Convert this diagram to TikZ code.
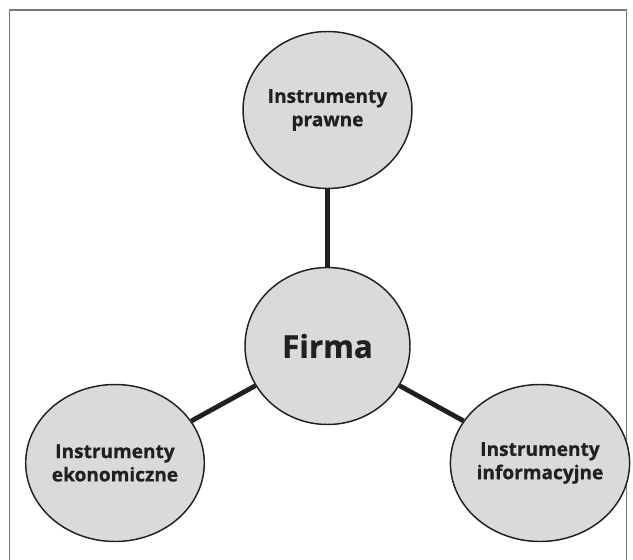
\documentclass[tikz,border=0pt]{standalone}
\usepackage{fontspec}
\setmainfont{Open Sans}[BoldFeatures={FakeBold=0.8}]
\usetikzlibrary{shapes.geometric}

\tikzset{every picture/.style={line width=0.75pt}}
\definecolor{ink}{RGB}{35,31,32}
\definecolor{discfill}{RGB}{217,218,219}
\definecolor{framegray}{RGB}{120,120,120}
\tikzset{
  disc/.style={ellipse, draw=ink, line width=1.1pt, fill=discfill, text=ink,
    minimum width=123.75pt, minimum height=117.75pt, inner sep=0pt, align=center,
    font=\fontsize{14.3}{17.5}\selectfont\bfseries},
  hub/.style={disc, font=\fontsize{23.5}{28}\selectfont\bfseries},
  link/.style={draw=ink, line width=3.6pt}
}

\begin{document}
\begin{tikzpicture}[x=0.75pt,y=0.75pt,yscale=-1,xscale=1]
\useasboundingbox (0,0) rectangle (633,560);

%Frame
\draw [color=framegray, line width=0.8pt] (9.5,560) -- (9.5,10) -- (626.5,10) -- (626.5,560) ;

% Circles
\node [disc] (prawne) at (327.5,110) {Instrumenty\\prawne};
\node [hub] (firma) at (327.5,346) {Firma};
\node [disc] (ekon) at (115,463) {Instrumenty\\ekonomiczne};
\node [disc] (inform) at (540,463) {Instrumenty\\informacyjne};

% Straight Lines
\draw [link] (firma) -- (prawne) ;
\draw [link] (firma) -- (ekon) ;
\draw [link] (firma) -- (inform) ;

\end{tikzpicture}
\end{document}
